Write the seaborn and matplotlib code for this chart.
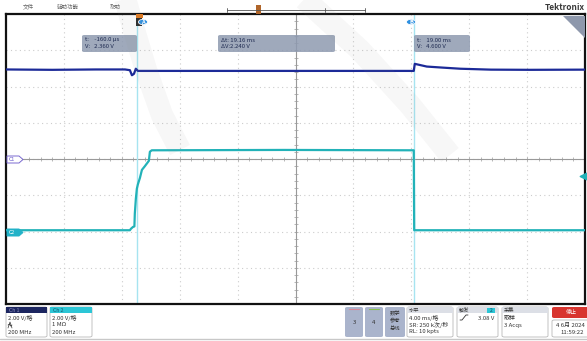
import numpy as np
import pandas as pd
import matplotlib.pyplot as plt
import seaborn as sns
from matplotlib.patches import Rectangle, Circle, Polygon, FancyBboxPatch
from matplotlib.lines import Line2D

# scope settings
volts_per_div = 2.0
ch1_position = 0.0   # divisions
ch2_position = -2.0  # divisions
t_left = -9.2        # ms at left edge
ms_per_div = 4.0

# channel 1 (dark blue) samples, ms / V
ch1_t = [-9.2, -6.0, -3.0, -0.98, -0.64, -0.50, -0.36, -0.23, -0.09, 5.0, 12.0, 18.97,
         19.04, 19.87, 21.0, 22.2, 24.3, 27.0, 30.8]
ch1_v = [4.94, 4.92, 4.94, 4.94, 4.90, 4.62, 4.70, 4.98, 4.86, 4.86, 4.86, 4.86,
         5.25, 5.10, 5.04, 4.98, 4.93, 4.92, 4.93]

# channel 2 (teal) samples, ms / V
ch2_t = [-9.2, -0.64, -0.57, -0.43, -0.33, -0.30, -0.23, -0.16, -0.09, 0.05, 0.19,
         0.39, 0.53, 0.67, 0.74, 0.87, 10.0, 18.97, 19.00, 30.8]
ch2_v = [0.07, 0.07, 0.15, 0.25, 0.28, 1.00, 1.80, 2.36, 2.60, 2.95, 3.40,
         3.60, 3.75, 3.90, 4.40, 4.48, 4.50, 4.48, 0.07, 0.07]

cursor_t = [-0.16, 19.00]
trigger_level = 3.08

W, H = 587, 341


def fx(x):
    return x / W


def fy(y):
    return 1 - y / H


sns.set_theme(style="white")
plt.rcParams['font.family'] = ['Noto Sans CJK SC', 'DejaVu Sans']

fig = plt.figure(figsize=(W / 100, H / 100), dpi=100)
fig.patch.set_facecolor('white')

# main graticule axes
x0, x1, y0, y1 = 6, 585, 14, 304
ax = fig.add_axes([fx(x0), fy(y1), (x1 - x0) / W, (y1 - y0) / H])
ax.set_xlim(t_left, t_left + 10 * ms_per_div)
ax.set_ylim(-4, 4)
ax.set_xticks([t_left + ms_per_div * k for k in range(1, 10)])
ax.set_yticks(range(-3, 4))
ax.tick_params(length=0, labelbottom=False, labelleft=False)
ax.grid(True, color='#cccccc', linestyle=(0, (1, 3)), linewidth=0.8)
for s in ax.spines.values():
    s.set_color('#111111')
    s.set_linewidth(1.6)

# center crosshair with small ticks
t_center = t_left + 5 * ms_per_div
ax.axhline(0, color='#999999', linewidth=0.8, zorder=1)
ax.axvline(t_center, color='#999999', linewidth=0.8, zorder=1)
tick_x = [t_left + ms_per_div * k / 5 for k in range(1, 50)]
ax.scatter(tick_x, [0] * len(tick_x), marker='|', s=5, color='#999999', linewidths=0.5, zorder=1)
tick_y = [k / 5 - 4 for k in range(1, 40)]
ax.scatter([t_center] * len(tick_y), tick_y, marker='_', s=5, color='#999999', linewidths=0.5, zorder=1)

# cursors
for ct in cursor_t:
    ax.axvline(ct, color='#a6e4f0', linewidth=1.0, zorder=2)

df1 = pd.DataFrame({'t': ch1_t, 'div': np.array(ch1_v) / volts_per_div + ch1_position})
df2 = pd.DataFrame({'t': ch2_t, 'div': np.array(ch2_v) / volts_per_div + ch2_position})
sns.lineplot(data=df1, x='t', y='div', ax=ax, color='#1c2a98', linewidth=1.6,
             sort=False, estimator=None, zorder=4)
sns.lineplot(data=df2, x='t', y='div', ax=ax, color='#22b2b8', linewidth=1.6,
             sort=False, estimator=None, zorder=4)
ax.set_xlabel('')
ax.set_ylabel('')

# trigger level arrow on right edge
ax.scatter([t_left + 10 * ms_per_div - 0.15], [trigger_level / volts_per_div + ch2_position],
           marker='<', s=22, color='#22b2b8', zorder=5, clip_on=False)


def frect(xa, ya, xb, yb, **kw):
    fig.add_artist(Rectangle((fx(xa), fy(yb)), (xb - xa) / W, (yb - ya) / H,
                             transform=fig.transFigure, **kw))


def fround(xa, ya, xb, yb, r=0.004, **kw):
    fig.add_artist(FancyBboxPatch((fx(xa), fy(yb)), (xb - xa) / W, (yb - ya) / H,
                                  boxstyle='round,pad=0,rounding_size=%g' % r,
                                  transform=fig.transFigure, **kw))


def ftext(x, y, s, **kw):
    kw.setdefault('fontsize', 4.3)
    kw.setdefault('va', 'center')
    fig.text(fx(x), fy(y), s, **kw)


def fline(xs, ys, **kw):
    fig.add_artist(Line2D([fx(v) for v in xs], [fy(v) for v in ys],
                          transform=fig.transFigure, **kw))


# channel tags
fig.add_artist(Polygon([(fx(7), fy(156)), (fx(19), fy(156)), (fx(23), fy(159.5)),
                        (fx(19), fy(163)), (fx(7), fy(163))], closed=True,
                       transform=fig.transFigure, facecolor='white', edgecolor='#7a6ad0', linewidth=0.7, zorder=6))
ftext(9, 159.5, 'C1', color='#6a5acd', fontsize=3.8, zorder=7)
fig.add_artist(Polygon([(fx(7), fy(229)), (fx(19), fy(229)), (fx(23), fy(232.5)),
                        (fx(19), fy(236)), (fx(7), fy(236))], closed=True,
                       transform=fig.transFigure, facecolor='#22b2c8', edgecolor='#22b2c8', linewidth=0.7, zorder=6))
ftext(9, 232.5, 'C2', color='white', fontsize=3.8, zorder=7)

# trigger position marker and cursor handles
frect(136, 14, 143, 18, facecolor='#e07a20', edgecolor='none', zorder=7)
frect(136, 18, 142, 26, facecolor='#2a2a2a', edgecolor='none', zorder=7)
fig.add_artist(Circle((fx(143), fy(22)), 4.6 / W, transform=fig.transFigure,
                      facecolor='#2d8fe0', edgecolor='white', linewidth=0.6, zorder=8))
ftext(143, 22.3, 'A', color='white', fontsize=4.2, ha='center', weight='bold', zorder=9)
fig.add_artist(Circle((fx(411), fy(22)), 4.6 / W, transform=fig.transFigure,
                      facecolor='#2d8fe0', edgecolor='white', linewidth=0.6, zorder=8))
ftext(411, 22.3, 'B', color='white', fontsize=4.2, ha='center', weight='bold', zorder=9)

# cursor readouts
box_kw = dict(facecolor='#8e9ab0', edgecolor='none', alpha=0.85, zorder=8)
fround(82, 35, 137, 52, **box_kw)
ftext(85, 40, 't:    -160.0 µs', color='#1e2a50', zorder=9)
ftext(85, 47, 'V:   2.360 V', color='#1e2a50', zorder=9)
fround(218, 35, 335, 52, **box_kw)
ftext(221, 40, 'Δt: 19.16 ms', color='#1e2a50', zorder=9)
ftext(221, 47, 'ΔV:2.240 V', color='#1e2a50', zorder=9)
fround(414, 35, 470, 52, **box_kw)
ftext(417, 40, 't:    19.00 ms', color='#1e2a50', zorder=9)
ftext(417, 47, 'V:   4.600 V', color='#1e2a50', zorder=9)

# zoom corner
fig.add_artist(Polygon([(fx(563), fy(16)), (fx(585), fy(16)), (fx(585), fy(38))], closed=True,
                       transform=fig.transFigure, facecolor='#8e98ac', edgecolor='none', zorder=8))

# watermark strokes
fline([124, 134, 146, 162, 180], [-5, 30, 70, 115, 150], color='#909090', alpha=0.07,
      linewidth=16, solid_capstyle='butt', zorder=10)
fline([300, 360, 410, 450], [-5, 50, 105, 155], color='#909090', alpha=0.07,
      linewidth=16, solid_capstyle='butt', zorder=10)

# top menu bar
ftext(23, 7, '文件', color='#666666', fontsize=4)
ftext(57, 7, '辅助功能', color='#666666', fontsize=4)
ftext(110, 7, '帮助', color='#666666', fontsize=4)
fline([227, 365], [10, 10], color='#555555', linewidth=0.6)
for xt in [227, 325, 365]:
    fline([xt, xt], [8, 12], color='#555555', linewidth=0.6)
frect(256, 5, 261, 14, facecolor='#b0652a', edgecolor='none')
ftext(545, 8, 'Tektronix', color='#3a3a3a', fontsize=6, weight='bold')

# bottom status panel
fline([0, W], [338.5, 338.5], color='#c8c8c8', linewidth=1.0)
fround(6, 307, 47, 337, facecolor='white', edgecolor='#b8b8b8', linewidth=0.6)
frect(6, 307, 47, 313, facecolor='#1c2660', edgecolor='none')
ftext(9, 310, 'Ch 1', color='#9090c0', fontsize=3.8)
ftext(8, 318, '2.00 V/格', color='#333333')
# coupling icon (drawn shape)
fline([8, 10, 12], [328, 322, 328], color='#333333', linewidth=0.5)
fline([8, 9.5, 10.5, 12], [325, 324, 326, 325], color='#333333', linewidth=0.5)
ftext(8, 332, '200 MHz', color='#333333')
fround(50, 307, 92, 337, facecolor='white', edgecolor='#b8b8b8', linewidth=0.6)
frect(50, 307, 92, 313, facecolor='#2cc6d6', edgecolor='none')
ftext(53, 310, 'Ch 2', color='#1a5a70', fontsize=3.8)
ftext(52, 318, '2.00 V/格', color='#333333')
ftext(52, 325, '1 MΩ', color='#333333')
ftext(52, 332, '200 MHz', color='#333333')

fround(345, 307, 363, 337, facecolor='#aab4cc', edgecolor='none')
fline([349, 359], [309, 309], color='#d88a9a', linewidth=0.8)
ftext(354, 322, '3', color='#333333', ha='center')
fround(365, 307, 383, 337, facecolor='#aab4cc', edgecolor='none')
fline([369, 379], [309, 309], color='#8ac050', linewidth=0.8)
ftext(374, 322, '4', color='#333333', ha='center')
fround(385, 307, 405, 337, facecolor='#aab4cc', edgecolor='none')
ftext(395, 314, '数学', color='#333333', ha='center', fontsize=3.8)
ftext(395, 321, '参考', color='#333333', ha='center', fontsize=3.8)
ftext(395, 328, '总线', color='#333333', ha='center', fontsize=3.8)

fround(407, 307, 453, 337, facecolor='white', edgecolor='#b8b8b8', linewidth=0.6)
frect(407, 307, 453, 313, facecolor='#dcdfe6', edgecolor='none')
ftext(409, 310, '水平', color='#333333', fontsize=3.8)
ftext(409, 318, '4.00 ms/格', color='#333333')
ftext(409, 325, 'SR: 250 k次/秒', color='#333333')
ftext(409, 332, 'RL: 10 kpts', color='#333333')

fround(457, 307, 498, 337, facecolor='white', edgecolor='#b8b8b8', linewidth=0.6)
frect(457, 307, 498, 313, facecolor='#dcdfe6', edgecolor='none')
ftext(459, 310, '触发', color='#333333', fontsize=3.8)
frect(487, 308, 495, 313, facecolor='#2cc6d6', edgecolor='none')
ftext(491, 310.5, '2', color='#1a4a60', fontsize=3.6, ha='center')
# rising edge icon (drawn shape)
fline([460, 462, 466, 468], [320, 320, 315, 315], color='#333333', linewidth=0.6)
ftext(478, 318, '3.08 V', color='#333333')

fround(502, 307, 548, 337, facecolor='white', edgecolor='#b8b8b8', linewidth=0.6)
frect(502, 307, 548, 313, facecolor='#dcdfe6', edgecolor='none')
ftext(504, 310, '采集', color='#333333', fontsize=3.8)
ftext(504, 318, '取样', color='#333333')
ftext(504, 325, '3 Acqs', color='#333333')

fround(552, 307, 590, 318, facecolor='#d8352f', edgecolor='none')
ftext(571, 312.5, '停止', color='white', ha='center', fontsize=4)
fround(552, 320, 590, 337, facecolor='white', edgecolor='#b8b8b8', linewidth=0.6)
ftext(556, 325, '4 6月 2024', color='#333333')
ftext(560, 332, '11:59:22', color='#333333')

fig.savefig('out.png', dpi=100, facecolor='white')
